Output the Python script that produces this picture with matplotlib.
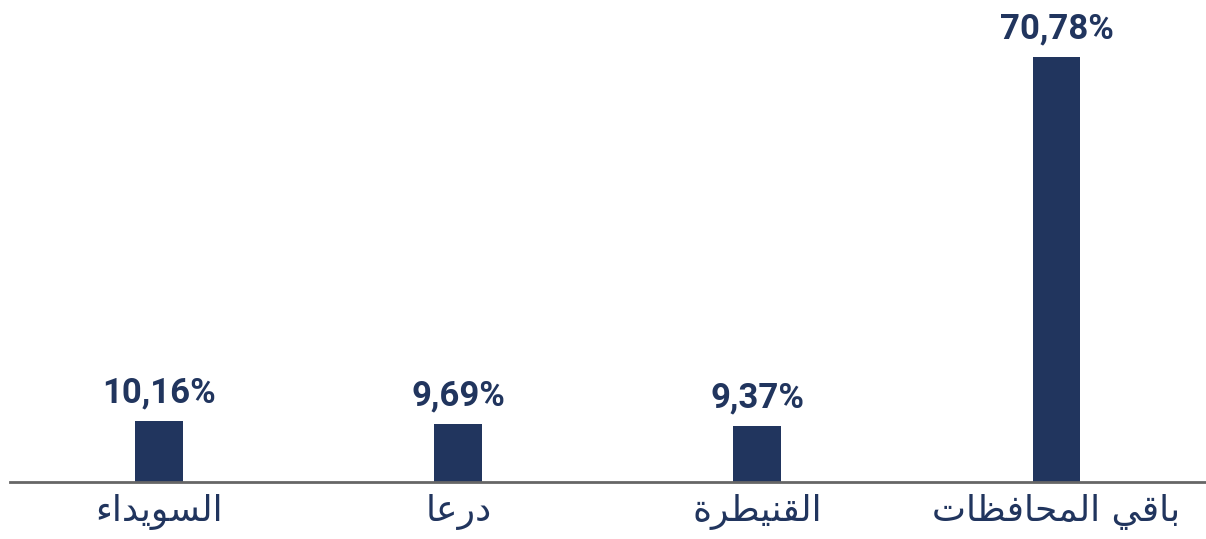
import matplotlib
matplotlib.use("Agg")
import matplotlib.pyplot as plt

regions = ["السويداء", "درعا", "القنيطرة", "باقي المحافظات"]
shares = [10.16, 9.69, 9.37, 70.78]

# presentation forms: isolated, final, initial, medial
forms = {
    "ء": (0xFE80, None, None, None),
    "ا": (0xFE8D, 0xFE8E, None, None),
    "ب": (0xFE8F, 0xFE90, 0xFE91, 0xFE92),
    "ة": (0xFE93, 0xFE94, None, None),
    "ت": (0xFE95, 0xFE96, 0xFE97, 0xFE98),
    "ح": (0xFEA1, 0xFEA2, 0xFEA3, 0xFEA4),
    "د": (0xFEA9, 0xFEAA, None, None),
    "ر": (0xFEAD, 0xFEAE, None, None),
    "س": (0xFEB1, 0xFEB2, 0xFEB3, 0xFEB4),
    "ط": (0xFEC1, 0xFEC2, 0xFEC3, 0xFEC4),
    "ظ": (0xFEC5, 0xFEC6, 0xFEC7, 0xFEC8),
    "ع": (0xFEC9, 0xFECA, 0xFECB, 0xFECC),
    "ف": (0xFED1, 0xFED2, 0xFED3, 0xFED4),
    "ق": (0xFED5, 0xFED6, 0xFED7, 0xFED8),
    "ل": (0xFEDD, 0xFEDE, 0xFEDF, 0xFEE0),
    "م": (0xFEE1, 0xFEE2, 0xFEE3, 0xFEE4),
    "ن": (0xFEE5, 0xFEE6, 0xFEE7, 0xFEE8),
    "و": (0xFEED, 0xFEEE, None, None),
    "ي": (0xFEF1, 0xFEF2, 0xFEF3, 0xFEF4),
}


def joins_left(c):
    return c in forms and forms[c][2] is not None


def joins_right(c):
    return c in forms and forms[c][1] is not None


def shape(text):
    out = []
    for i, c in enumerate(text):
        if c not in forms:
            out.append(c)
            continue
        prev = text[i - 1] if i > 0 else ""
        nxt = text[i + 1] if i + 1 < len(text) else ""
        p = joins_left(prev) and joins_right(c)
        n = joins_left(c) and joins_right(nxt)
        f = forms[c]
        if p and n:
            code = f[3]
        elif p:
            code = f[1]
        elif n:
            code = f[2]
        else:
            code = f[0]
        out.append(chr(code))
    return "".join(out)[::-1]


navy = "#21355e"

fig = plt.figure(figsize=(12.06, 5.39), dpi=100)
ax = fig.add_axes([0.008, 0.1058, 0.992, 0.8942])

x = range(len(regions))
bars = ax.bar(x, shares, width=0.16, color=navy)
for b, v in zip(bars, shares):
    ax.text(b.get_x() + b.get_width() / 2, v + 3.1, f"{v:.2f}".replace(".", ",") + "%",
            ha="center", va="baseline", fontsize=25, fontweight="bold",
            color=navy, family="Roboto")

ax.set_xlim(-0.5, 3.5)
ax.set_ylim(0, 80.3)
ax.set_xticks(list(x))
ax.set_xticklabels([shape(r) for r in regions], fontsize=26, color=navy,
                   family="DejaVu Sans")
ax.tick_params(axis="x", length=0, pad=9)
ax.set_yticks([])
for s in ["top", "right", "left"]:
    ax.spines[s].set_visible(False)
ax.spines["bottom"].set_color("#666666")
ax.spines["bottom"].set_linewidth(2)

fig.savefig("out.png", dpi=100)
